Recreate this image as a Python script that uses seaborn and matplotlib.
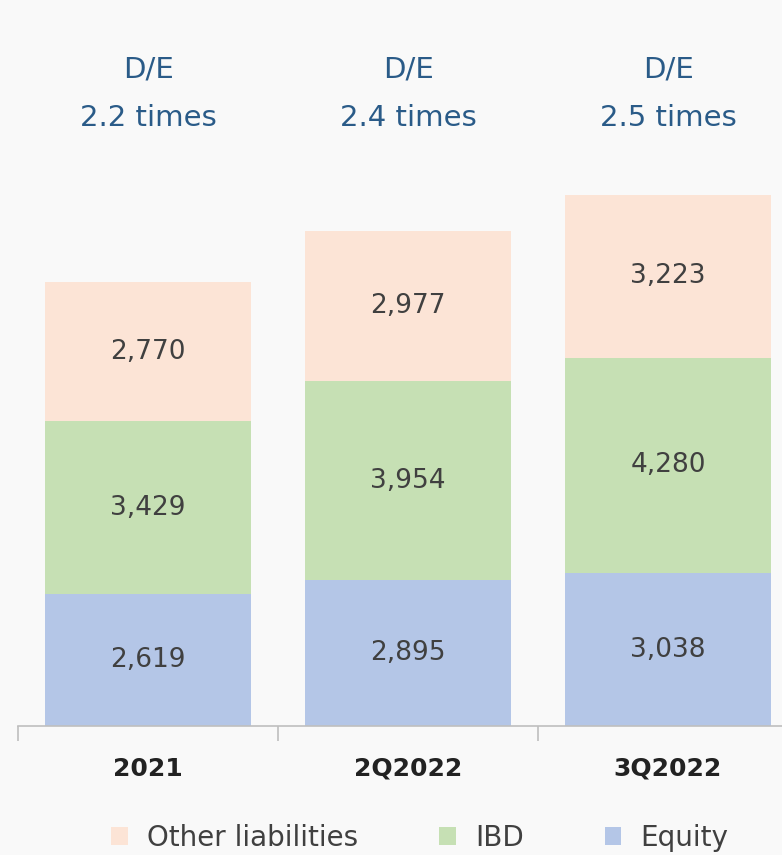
import numpy as np
import pandas as pd
import matplotlib.pyplot as plt
import seaborn as sns
from matplotlib.patches import Patch

periods = ['2021', '2Q2022', '3Q2022']
equity = [2619, 2895, 3038]
ibd = [3429, 3954, 4280]
other = [2770, 2977, 3223]
de_ratio = ['2.2', '2.4', '2.5']

colors = {'Other liabilities': '#fce4d6', 'IBD': '#c6e0b4', 'Equity': '#b4c6e7'}

df = pd.DataFrame({'Period': periods, 'Equity': equity, 'IBD': ibd,
                   'Other liabilities': other})

sns.set_style('white')
plt.rcParams['font.family'] = ['DejaVu Sans']

fig = plt.figure(figsize=(7.82, 8.55), dpi=100, facecolor='#f9f9f9')
ax = fig.add_axes([18 / 782, 129 / 855, 780 / 782, 726 / 855])
ax.set_facecolor('#f9f9f9')

bottom = np.zeros(len(periods))
for seg in ['Equity', 'IBD', 'Other liabilities']:
    sns.barplot(data=df, x='Period', y=seg, color=colors[seg], width=0.79,
                bottom=bottom, ax=ax, saturation=1, linewidth=0)
    for i, v in enumerate(df[seg]):
        ax.text(i, bottom[i] + v / 2, f'{v:,}', ha='center', va='center',
                fontsize=19, color='#404040')
    bottom = bottom + df[seg].values

ax.set_xlim(-0.5, 2.5)
ax.set_ylim(0, 726 / 0.05035)
ax.set_xlabel('')
ax.set_ylabel('')
ax.set_yticks([])
for s in ['top', 'right', 'left']:
    ax.spines[s].set_visible(False)
ax.spines['bottom'].set_color('#bfbfbf')
ax.spines['bottom'].set_linewidth(1.2)

ax.set_xticks(range(len(periods)))
ax.set_xticklabels(periods, fontsize=18, fontweight='semibold', color='#222222')
ax.tick_params(axis='x', which='major', length=0, pad=22)
ax.set_xticks([-0.5, 0.5, 1.5, 2.5], minor=True)
ax.tick_params(axis='x', which='minor', length=11, width=1.2, color='#bfbfbf',
               bottom=True)

for i, r in enumerate(de_ratio):
    fig.text((18 + 260 * i + 130) / 782, 1 - 70 / 855, 'D/E', ha='center',
             va='center', fontsize=21, color='#2a5b88')
    fig.text((18 + 260 * i + 130) / 782, 1 - 118 / 855, f'{r} times',
             ha='center', va='center', fontsize=21, color='#2a5b88')

handles = [Patch(facecolor=colors[k], edgecolor='none') for k in
           ['Other liabilities', 'IBD', 'Equity']]
fig.legend(handles, ['Other liabilities', 'IBD', 'Equity'], loc='center',
           bbox_to_anchor=(0.537, 1 - 838 / 855), ncol=3, frameon=False,
           fontsize=20, handlelength=0.6, handleheight=0.6, columnspacing=2.9,
           handletextpad=0.7, labelcolor='#404040')

fig.savefig('out.png', dpi=100, facecolor=fig.get_facecolor())
